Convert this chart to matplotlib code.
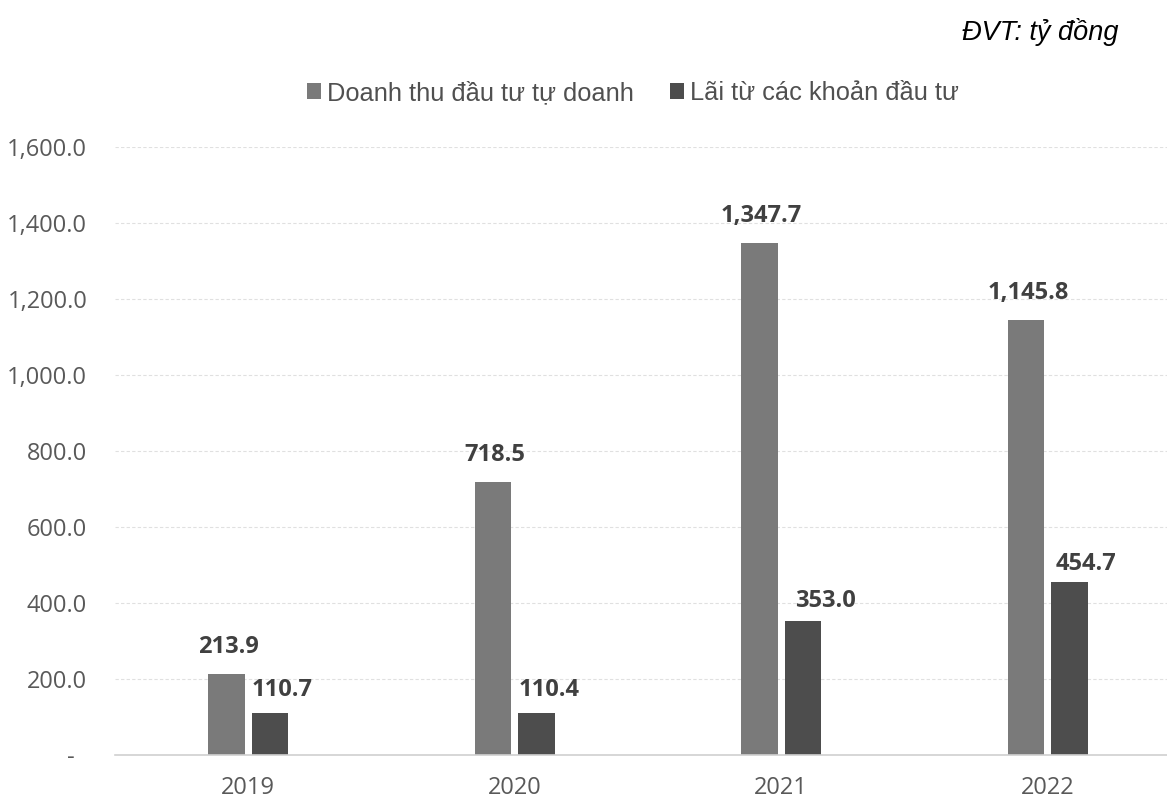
import matplotlib.pyplot as plt
import numpy as np
from matplotlib.ticker import FuncFormatter

years = ['2019', '2020', '2021', '2022']
doanh_thu = [213.9, 718.5, 1347.7, 1145.8]
lai_dau_tu = [110.7, 110.4, 353.0, 454.7]
series_names = ['Doanh thu đầu tư tự doanh', 'Lãi từ các khoản đầu tư']

fig = plt.figure(figsize=(11.67, 7.98), dpi=100)
ax = fig.add_axes([115 / 1167, 1 - 755 / 798, 1066 / 1167, 608 / 798])

x = np.arange(len(years))
w = 0.137
off = 0.082
b1 = ax.bar(x - off, doanh_thu, w, color='#7a7a7a', label=series_names[0])
b2 = ax.bar(x + off, lai_dau_tu, w, color='#4d4d4d', label=series_names[1])

# label offsets in pixels (dx, dy to text centre), nudged to avoid neighbours
offs1 = [(2, 27)] * 4
offs2 = [(12, 23), (12, 23), (22, 20), (16, 18)]
for bars, vals, offs in ((b1, doanh_thu, offs1), (b2, lai_dau_tu, offs2)):
    for rect, v, (dx, dy) in zip(bars, vals, offs):
        ax.annotate(f'{v:,.1f}', (rect.get_x() + rect.get_width() / 2, v),
                    xytext=(dx, dy), textcoords='offset pixels',
                    ha='center', va='center', fontsize=17, fontweight='bold',
                    family='Open Sans', color='#404040')

ax.set_xlim(-0.5, 3.5)
ax.set_ylim(0, 1600)
ax.set_yticks(range(0, 1601, 200))
ax.yaxis.set_major_formatter(FuncFormatter(lambda v, p: '-  ' if v == 0 else f'{v:,.1f}'))
ax.set_xticks(x)
ax.set_xticklabels(years)
for lbl in ax.get_xticklabels() + ax.get_yticklabels():
    lbl.set_family('Open Sans')
    lbl.set_fontsize(17)
    lbl.set_color('#595959')
ax.tick_params(axis='both', length=0)
ax.tick_params(axis='y', pad=20)
ax.tick_params(axis='x', pad=15)

ax.grid(axis='y', color='#e0e0e0', linestyle=(0, (3, 2)), linewidth=0.8)
ax.set_axisbelow(True)
for s in ('top', 'right', 'left'):
    ax.spines[s].set_visible(False)
ax.spines['bottom'].set_color('#d0d0d0')
ax.spines['bottom'].set_linewidth(1.2)

fig.legend(loc='center', bbox_to_anchor=(633 / 1167, 1 - 93 / 798), ncol=2,
           frameon=False, prop={'family': 'Liberation Sans', 'size': 18.3},
           labelcolor='#505050', handlelength=0.55, handleheight=0.55,
           handletextpad=0.25, columnspacing=1.4)

fig.text(1118 / 1167, 1 - 32 / 798, 'ĐVT: tỷ đồng', ha='right', va='center',
         fontsize=19.5, style='italic', family='Liberation Sans', color='black')

fig.savefig('out.png', dpi=100)
